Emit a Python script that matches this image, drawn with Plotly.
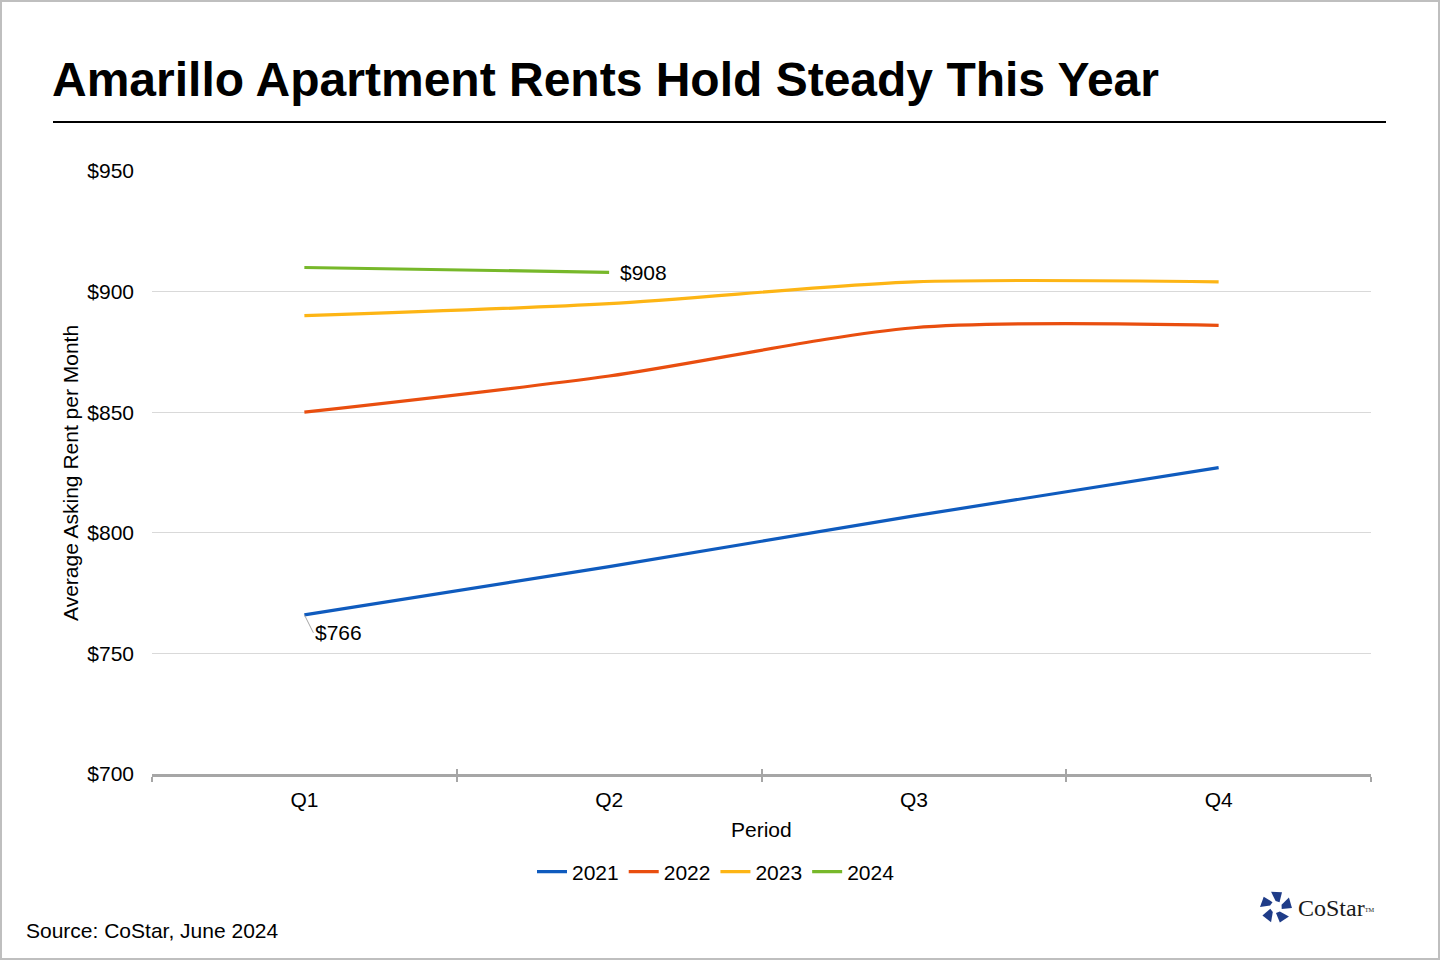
import plotly.graph_objects as go
import math

quarters = ["Q1", "Q2", "Q3", "Q4"]
rent_2021 = [766, 786, 807, 827]
rent_2022 = [850, 865, 885, 886]
rent_2023 = [890, 895, 904, 904]
rent_2024 = [910, 908]
series_names = ["2021", "2022", "2023", "2024"]
series_colors = ["#0F5BBE", "#E94E0F", "#FDB515", "#77B82A"]
y_ticks = [700, 750, 800, 850, 900, 950]
y_tick_labels = ["$700", "$750", "$800", "$850", "$900", "$950"]

W, H = 1440, 960
L, R, T, B = 152, 1371, 171, 774
FS = 21


def px(x):
    return (x - L) / (R - L)


def py(y):
    return (B - y) / (B - T)


FONT = "Liberation Sans, Arial, sans-serif"

fig = go.Figure()
for name, vals, col in zip(series_names, [rent_2021, rent_2022, rent_2023, rent_2024], series_colors):
    fig.add_trace(go.Scatter(
        x=quarters[:len(vals)], y=vals, name=name, mode="lines",
        line=dict(color=col, width=3.2, shape="spline", smoothing=0.8),
        hoverinfo="x+y+name",
    ))

# invisible trace to drive the overlay axis for inside ticks
fig.add_trace(go.Scatter(x=quarters, y=rent_2021, xaxis="x2", yaxis="y", mode="lines",
                         line=dict(width=0), showlegend=False, hoverinfo="skip"))

fig.update_layout(
    width=W, height=H,
    margin=dict(l=L, r=W - R, t=T, b=H - B, autoexpand=False),
    paper_bgcolor="white", plot_bgcolor="white",
    font=dict(family=FONT, size=FS, color="#000000"),
    showlegend=True,
    legend=dict(orientation="h", x=px(716), xanchor="center", y=py(872), yanchor="middle",
                font=dict(size=FS, color="#000"), itemwidth=30, tracegroupgap=0,
                bgcolor="rgba(0,0,0,0)"),
    xaxis=dict(type="category", categoryorder="array", categoryarray=quarters,
               range=[-0.5, 3.5], showgrid=False, showline=True, linecolor="#A6A6A6", linewidth=3,
               ticks="outside", tickson="boundaries", ticklen=5, tickwidth=2, tickcolor="#A6A6A6",
               tickfont=dict(size=FS, color="#000"), ticklabelstandoff=5,
               zeroline=False, fixedrange=True),
    xaxis2=dict(type="category", categoryorder="array", categoryarray=quarters, overlaying="x",
                range=[-0.5, 3.5], showgrid=False, showline=False, showticklabels=False,
                ticks="inside", tickson="boundaries", ticklen=5, tickwidth=2, tickcolor="#A6A6A6",
                anchor="y", side="bottom"),
    yaxis=dict(range=[700, 950], tickvals=y_ticks, ticktext=y_tick_labels, showgrid=True,
               gridcolor="#D9D9D9", gridwidth=1, showline=False, zeroline=False, ticks="",
               tickfont=dict(size=FS, color="#000"), ticklabelstandoff=17, fixedrange=True),
)

annotations = [
    dict(text="<b>Amarillo Apartment Rents Hold Steady This Year</b>", xref="paper", yref="paper",
         x=px(50), y=py(80), xanchor="left", yanchor="middle", showarrow=False,
         font=dict(size=48, color="#000", family=FONT)),
    dict(text="Average Asking Rent per Month", xref="paper", yref="paper", x=px(71), y=py(473),
         textangle=-90, xanchor="center", yanchor="middle", showarrow=False, font=dict(size=FS)),
    dict(text="Period", xref="paper", yref="paper", x=px(761), y=py(829),
         xanchor="center", yanchor="middle", showarrow=False, font=dict(size=FS)),
    dict(text="Source: CoStar, June 2024", xref="paper", yref="paper", x=px(24), y=py(930),
         xanchor="left", yanchor="middle", showarrow=False, font=dict(size=FS)),
    dict(text="$908", x=quarters[1], y=rent_2024[1], xref="x", yref="y", xanchor="left",
         yanchor="middle", xshift=9, showarrow=False, font=dict(size=FS)),
    dict(text="$766", x=quarters[0], y=rent_2021[0], xref="x", yref="y", ax=9, ay=18,
         showarrow=True, arrowhead=0, arrowwidth=1, arrowcolor="#A6A6A6", standoff=0,
         xanchor="left", yanchor="middle", font=dict(size=FS)),
    dict(text="CoStar<span style='font-size:9px'><sup>TM</sup></span>", xref="paper", yref="paper",
         x=px(1296), y=py(908),
         xanchor="left", yanchor="middle", showarrow=False,
         font=dict(size=24, color="#1A1A1A", family="Liberation Serif, Times New Roman, serif")),
]
fig.update_layout(annotations=annotations)

shapes = [
    # title rule
    dict(type="line", xref="paper", yref="paper", x0=px(53), x1=px(1386), y0=py(122), y1=py(122),
         line=dict(color="#000", width=2)),
    # outer border
    dict(type="rect", xref="paper", yref="paper", x0=px(1), x1=px(1439), y0=py(1), y1=py(959),
         line=dict(color="#BFBFBF", width=2), layer="below"),
]

# CoStar logo icon: five blocks arranged in a pinwheel
cx, cy = 1276, 907
for k in range(5):
    a0 = math.radians(-90 + k * 72 - 18)
    a1 = math.radians(-90 + k * 72 + 22)
    r0, r1 = 6, 16
    pts = [(cx + r0 * math.cos(a0 + 0.25), cy + r0 * math.sin(a0 + 0.25)),
           (cx + r1 * math.cos(a0), cy + r1 * math.sin(a0)),
           (cx + r1 * math.cos(a1), cy + r1 * math.sin(a1)),
           (cx + r0 * math.cos(a1 + 0.25), cy + r0 * math.sin(a1 + 0.25))]
    path = "M " + " L ".join(f"{px(x):.5f},{py(y):.5f}" for x, y in pts) + " Z"
    shapes.append(dict(type="path", xref="paper", yref="paper", path=path,
                       fillcolor="#1F3C88", line=dict(width=0)))

fig.update_layout(shapes=shapes)

fig.write_html("out.html", config={"displayModeBar": False},
               post_script="document.body.style.margin='0';document.body.style.overflow='hidden';")
